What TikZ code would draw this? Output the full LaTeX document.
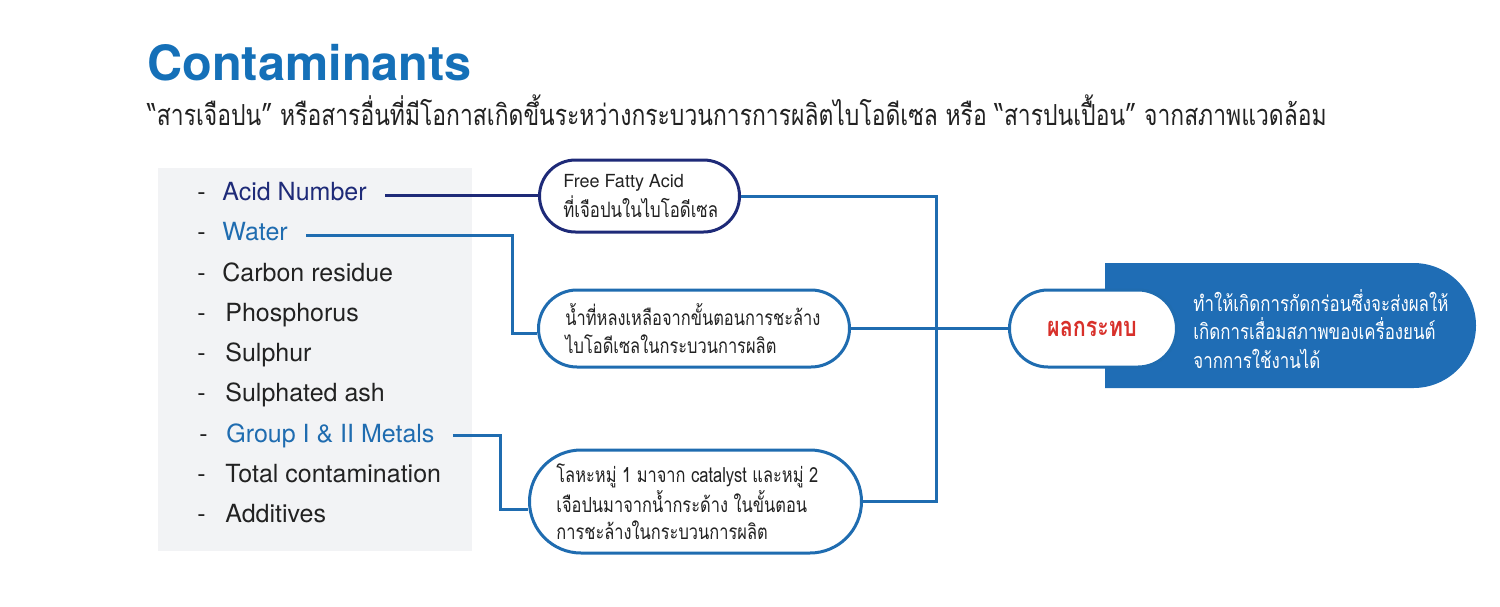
\documentclass[tikz,border=0pt]{standalone}
\usepackage{fontspec}
\setmainfont{TeX Gyre Heros}
\newfontfamily\thai[Script=Thai,FakeStretch=0.79]{Loma}
\usetikzlibrary{calc}
\definecolor{titleblue}{HTML}{1570B8}
\definecolor{navy}{HTML}{1E2A78}
\definecolor{midblue}{HTML}{1F6CB0}
\definecolor{fillblue}{HTML}{1F6DB5}
\definecolor{panelgray}{HTML}{F2F3F5}
\definecolor{txt}{HTML}{222222}
\definecolor{redtxt}{HTML}{D8302A}
\tikzset{
  item/.style={anchor=base west, inner sep=0pt, font=\fontsize{12.5}{15}\selectfont, text=txt},
  dashmark/.style={anchor=base west, inner sep=0pt, font=\fontsize{12.5}{15}\selectfont, text=txt},
  pill/.style={draw=midblue, line width=1.5pt, fill=white, inner sep=0pt},
  pilltext/.style={anchor=west, align=left, text=txt, inner sep=0pt, font=\thai\fontsize{10.4}{14}\selectfont},
  conn/.style={draw=midblue, line width=1.5pt},
  navyconn/.style={draw=navy, line width=1.5pt}
}
\begin{document}
\begin{tikzpicture}[x=0.5pt,y=-0.5pt]
\useasboundingbox (0,0) rectangle (1500,606);
% title
\node[anchor=base west, inner sep=0pt, text=titleblue, font=\bfseries\fontsize{24.3}{28}\selectfont] (title) at (147,80) {Contaminants};
\node[anchor=base west, inner sep=0pt, text=txt, font=\thai\fontsize{14.5}{16}\selectfont] (sub) at (147,125)
 {“สารเจือปน” หรือสารอื่นที่มีโอกาสเกิดขึ้นระหว่างกระบวนการการผลิตไบโอดีเซล หรือ “สารปนเปื้อน” จากสภาพแวดล้อม};
% panel
\fill[panelgray] (158,168) rectangle (472,551);
% list
\node[dashmark] (d1) at (197,200) {-};
\node[item, text=navy] (acid) at (222,200) {Acid Number};
\node[dashmark] (d2) at (197,240) {-};
\node[item, text=midblue] (water) at (222,240) {Water};
\node[dashmark] (d3) at (197,281) {-};
\node[item] (carbon) at (222,281) {Carbon residue};
\node[dashmark] (d4) at (197,321) {-};
\node[item] (phos) at (225,321) {Phosphorus};
\node[dashmark] (d5) at (197,361) {-};
\node[item] (sulph) at (225,361) {Sulphur};
\node[dashmark] (d6) at (197,401) {-};
\node[item] (ash) at (225,401) {Sulphated ash};
\node[dashmark] (d7) at (199,442) {-};
\node[item, text=midblue] (group) at (226,442) {Group I \& II Metals};
\node[dashmark] (d8) at (197,482) {-};
\node[item] (total) at (225,482) {Total contamination};
\node[dashmark] (d9) at (197,522) {-};
\node[item] (add) at (225,522) {Additives};
% blue result shape
\fill[fillblue] (1105,263) -- (1413.5,263) arc[start angle=90, end angle=-90, radius=31.25pt] -- (1105,388) -- cycle;
\node[pilltext, text=white, font=\thai\fontsize{10.7}{14.3}\selectfont] (impacttxt) at (1193,329)
 {ทำให้เกิดการกัดกร่อนซึ่งจะส่งผลให้\\เกิดการเสื่อมสภาพของเครื่องยนต์\\จากการใช้งานได้};
% pills
\node[pill, draw=navy, anchor=west, minimum width=100pt, minimum height=36pt, rounded corners=18pt] (ffa) at (538,196) {};
\node[pilltext, font=\thai\fontsize{10.6}{15}\selectfont] (ffat) at ([xshift=12.5pt]ffa.west)
 {{\rmfamily\fontsize{9}{15}\selectfont Free Fatty Acid}\\ที่เจือปนในไบโอดีเซล};
\node[pill, anchor=west, minimum width=155.5pt, minimum height=38.5pt, rounded corners=19.25pt] (b2) at (537,328.5) {};
\node[pilltext] (b2t) at ([xshift=14pt]b2.west)
 {น้ำที่หลงเหลือจากขั้นตอนการชะล้าง\\ไบโอดีเซลในกระบวนการผลิต};
\node[pill, anchor=west, minimum width=166pt, minimum height=51.5pt, rounded corners=25.75pt] (b3) at (528,501.5) {};
\node[pilltext, font=\thai\fontsize{10.4}{13.5}\selectfont] (b3t) at ([xshift=14pt]b3.west)
 {โลหะหมู่ 1 มาจาก catalyst และหมู่ 2\\เจือปนมาจากน้ำกระด้าง ในขั้นตอน\\การชะล้างในกระบวนการผลิต};
\node[pill, anchor=west, minimum width=83.5pt, minimum height=38.5pt, rounded corners=19.25pt] (res) at (1008,328.5) {};
\node[inner sep=0pt, text=redtxt, font=\thai\bfseries\fontsize{13.6}{14}\selectfont] (rest) at (1092,328.5) {ผลกระทบ};
% connectors
\coordinate (wx) at (512,333);
\coordinate (gx) at (500,509);
\coordinate (jx) at (936,327);
\draw[navyconn] ([xshift=9pt]acid.east |- 0,195) -- (ffa.west |- 0,195);
\draw[conn] ([xshift=9pt]water.east |- 0,235) -| (wx) -- (b2.west |- wx);
\draw[conn] ([xshift=9pt]group.east |- 0,435) -| (gx) -- (b3.west |- gx);
\draw[conn] (ffa.east) -| (jx |- b3.east) -- (b3.east);
\draw[conn] (b2.east) -- (res.west);
\end{tikzpicture}
\end{document}
